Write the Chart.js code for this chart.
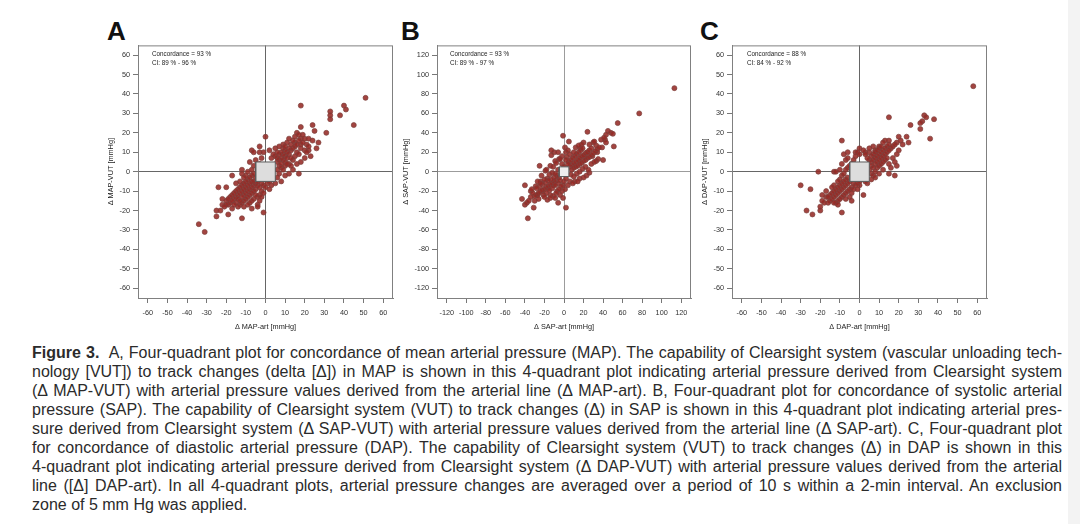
<!DOCTYPE html>
<html>
<head>
<meta charset="utf-8">
<script src="https://cdn.jsdelivr.net/npm/chart.js@4.4.1/dist/chart.umd.min.js"></script>
<style>
  body { margin: 0; background: #fff; width: 1080px; height: 524px; overflow: hidden; position: relative; font-family: "Liberation Sans", Arial, sans-serif; }
  canvas { position: absolute; }
  .letter { position: absolute; font-size: 26px; font-weight: bold; color: #111; line-height: 26px; }
  .stat { position: absolute; font-size: 6.3px; line-height: 9px; color: #222; }
  .strip { position: absolute; left: 1068px; top: 0; width: 12px; height: 524px; background: #f3f3f3; }
  .cap { position: absolute; left: 32px; top: 343px; font-size: 16px; line-height: 19px; color: #2b2b2b; }
  .cap div { height: 19px; }
  .cap span { display: inline-block; white-space: nowrap; }
</style>
</head>
<body>
<div class="strip"></div>

<div class="letter" style="left:107px;top:18px">A</div>
<div class="letter" style="left:401px;top:18px">B</div>
<div class="letter" style="left:700px;top:18px">C</div>

<canvas id="chartA" width="295" height="300" style="left:103px;top:38px"></canvas>
<canvas id="chartB" width="298" height="300" style="left:398px;top:38px"></canvas>
<canvas id="chartC" width="295" height="300" style="left:697px;top:38px"></canvas>

<div class="stat" style="left:152px;top:49px">Concordance = 93 %<br>CI: 89 % - 96 %</div>
<div class="stat" style="left:450px;top:49px">Concordance = 93 %<br>CI: 89 % - 97 %</div>
<div class="stat" style="left:747px;top:49px">Concordance = 88 %<br>CI: 84 % - 92 %</div>

<div class="cap">
  <div><span class="j"><b>Figure 3.</b>&nbsp; A, Four-quadrant plot for concordance of mean arterial pressure (MAP). The capability of Clearsight system (vascular unloading tech-</span></div>
  <div><span class="j">nology [VUT]) to track changes (delta [Δ]) in MAP is shown in this 4-quadrant plot indicating arterial pressure derived from Clearsight system</span></div>
  <div><span class="j">(Δ MAP-VUT) with arterial pressure values derived from the arterial line (Δ MAP-art). B, Four-quadrant plot for concordance of systolic arterial</span></div>
  <div><span class="j">pressure (SAP). The capability of Clearsight system (VUT) to track changes (Δ) in SAP is shown in this 4-quadrant plot indicating arterial pres-</span></div>
  <div><span class="j">sure derived from Clearsight system (Δ SAP-VUT) with arterial pressure values derived from the arterial line (Δ SAP-art). C, Four-quadrant plot</span></div>
  <div><span class="j">for concordance of diastolic arterial pressure (DAP). The capability of Clearsight system (VUT) to track changes (Δ) in DAP is shown in this</span></div>
  <div><span class="j">4-quadrant plot indicating arterial pressure derived from Clearsight system (Δ DAP-VUT) with arterial pressure values derived from the arterial</span></div>
  <div><span class="j">line ([Δ] DAP-art). In all 4-quadrant plots, arterial pressure changes are averaged over a period of 10 s within a 2-min interval. An exclusion</span></div>
  <div><span>zone of 5 mm Hg was applied.</span></div>
</div>

<script>
// tick labels
const ticks60 = [-60, -50, -40, -30, -20, -10, 0, 10, 20, 30, 40, 50, 60];
const ticks120 = [-120, -100, -80, -60, -40, -20, 0, 20, 40, 60, 80, 100, 120];

// exclusion zone (5 mmHg)
const exclusion = 5;

// A: delta MAP-art (x) vs delta MAP-VUT (y)
const mapPoints = [
  [51,38],[18,34],[40,34],[41,32],[38,29],[33,31],[33,29],[33,27],[45,24],[31,20],[24,24],[25,21],[27,15],[23,8],
  [18,23],[0,18],[-34,-27],[-31,-31],[-25,-23],[-25,-20],[-23,-20],[-12,-24],[-1,-21],[-19,-22],[-22,-14],[-24,-8],
  [-4,-17],[12,-1],[17,-1],[16,20],[18,17],[20,17],[-3,13],[-7,11],[-6,10],[-3,10],[-20,-15],[-19,-17],[-22,-17],
  [-18,-16],[-20,-8],[-17,-2],[-12,1],[-12,-1],[-15,-6],[22,17],[19,19],[21,14],[15,15],[20,11],[22,11],
  [6,5],[7,6],[8,7],[9,6],[10,8],[6,7],[7,3],[8,4],[9,9],[10,5],[11,7],[12,9],[11,10],[13,11],[12,12],[14,12],
  [13,14],[15,13],[14,16],[16,14],[17,16],[10,11],[9,12],[8,10],[7,9],[6,10],[5,8],[4,9],[3,7],[2,11],[5,12],
  [7,13],[9,14],[11,15],[12,17],[15,18],[17,19],[6,1],[8,2],[10,3],[12,4],[14,6],[15,8],[16,10],[18,12],[17,9],
  [13,7],[11,4],[9,1],[7,-1],[10,-2],[14,1],[6,-3],[8,-5],[5,-6],[3,-7],[2,-9],[4,-4],[10,13],[18,14],[19,15],
  [16,4],[13,3],[18,5],[21,10],[22,13],[24,16],[26,12],[20,7],
  [-5,-6],[-6,-7],[-7,-8],[-8,-9],[-9,-10],[-10,-11],[-11,-12],[-12,-13],[-6,-5],[-7,-5],[-8,-6],[-9,-7],[-10,-8],
  [-11,-9],[-12,-10],[-13,-11],[-14,-12],[-15,-13],[-16,-14],[-17,-15],[-5,-9],[-6,-10],[-7,-11],[-8,-12],[-9,-13],
  [-10,-14],[-11,-15],[-12,-16],[-13,-17],[-14,-18],[-4,-7],[-3,-8],[-2,-10],[-3,-12],[-4,-13],[-5,-12],[-6,-14],
  [-7,-15],[-9,-4],[-10,-5],[-11,-6],[-12,-7],[-13,-8],[-14,-9],[-15,-10],[-16,-11],[-17,-12],[-8,-3],[-7,-2],
  [-6,-1],[-10,-2],[-9,0],[-11,-3],[-13,-5],[-5,-3],[-4,-5],[-2,-6],[-1,-7],[0,-8],[1,-6],[2,-5],[-18,-13],
  [-19,-14],[-20,-17],[-21,-18],[-17,-19],[-15,-16],[-14,-14],[-16,-17],[-13,-15],[-3,-15],[-2,-13],[-8,-16],
  [-9,-17],[-11,-18],[-7,-19],[-4,-18],[-1,-11],[0,-4],[-6,3],[-5,6],[-8,5],[-7,1],[-4,2],[-3,4],[-2,7],[-1,10],[-3,1]
];

// B: delta SAP-art (x) vs delta SAP-VUT (y)
const sapPoints = [
  [113,86],[77,60],[55,50],[24,41],[-1,37],[5,31],[45,42],[48,40],[50,39],[43,38],[51,26],[40,12],[35,13],[26,-1],
  [-25,6],[-40,-14],[-43,-28],[-40,-34],[-38,-32],[-31,-37],[-37,-48],[-6,-32],[2,-37],[38,33],[42,33],[30,30],
  [33,27],[20,30],[17,24],[-10,20],[-13,17],[-13,22],[-5,13],[18,28],[26,28],[31,31],[41,35],[43,30],[39,25],
  [34,20],[29,16],[33,11],[24,20],[21,15],[16,11],[11,6],[-6,20],[-2,16],[-9,11],[-14,6],[-19,1],[-17,-7],
  [-24,-10],[-29,-15],[-34,-20],[-27,-24],[-22,-20],[-16,-17],[-11,-14],[-1,-14],[6,-10],[11,-10],[16,-7],
  [23,-4],[-14,-24],[-7,-20],
  [-5,-6],[-8,-9],[-10,-10],[-12,-12],[-14,-13],[-16,-15],[-18,-16],[-20,-18],[-22,-19],[-24,-20],[-26,-22],
  [-28,-24],[-30,-25],[-6,-12],[-9,-14],[-12,-17],[-15,-19],[-18,-22],[-21,-24],[-4,-9],[-7,-4],[-10,-6],[-13,-8],
  [-16,-9],[-19,-11],[-22,-13],[-25,-15],[-28,-17],[-3,-15],[-2,-20],[-5,-18],[-8,-22],[-11,-25],[-14,-27],
  [-17,-29],[-20,-8],[-23,-4],[-15,-3],[-12,-1],[-9,-2],[-6,2],[-18,2],[-32,-22],[-34,-26],[-36,-30],[-30,-30],
  [-26,-28],[-24,-12],[-20,-26],[-9,-27],[-4,-24],[0,-10],[2,-7],[1,-18],[4,-14],[-1,-27],[-33,-18],[-27,-10],
  [-11,5],[-8,9],
  [6,5],[8,7],[10,9],[12,10],[14,12],[16,14],[18,16],[20,17],[22,19],[24,20],[26,22],[28,24],[5,10],[7,12],
  [9,14],[11,16],[13,18],[15,20],[17,22],[19,24],[8,2],[10,4],[12,5],[14,6],[16,8],[18,9],[20,11],[22,12],
  [24,14],[26,15],[28,17],[30,19],[32,21],[34,23],[36,25],[3,15],[2,20],[1,25],[4,22],[6,18],[10,20],[12,25],
  [15,27],[7,-3],[10,-5],[13,-2],[16,0],[19,3],[22,5],[4,8],[2,12],[-2,8],[-4,13],[0,5],[9,-12],[14,-10],
  [20,-6],[31,10],[28,8],[25,2]
];

// C: delta DAP-art (x) vs delta DAP-VUT (y)
const dapPoints = [
  [58,44],[15,28],[33,29],[34,28],[32,26],[31,25],[31,22],[38,27],[36,17],[26,24],[25,15],[-9,16],[-21,0],[-13,0],
  [-12,0],[-30,-7],[-25,-9],[-27,-20],[-24,-22],[-20,-20],[-9,-21],[-4,-15],[2,-12],[0,-7],[18,-2],[19,3],
  [20,18],[19,15],[15,16],[13,16],[10,13],[8,11],[5,10],[3,10],[0,12],[-2,10],[-6,10],[-7,6],
  [-5,-5],[-6,-6],[-7,-7],[-8,-8],[-9,-9],[-10,-10],[-11,-11],[-12,-12],[-13,-13],[-14,-14],[-15,-15],[-16,-16],
  [-6,-3],[-7,-4],[-8,-5],[-9,-6],[-10,-7],[-11,-8],[-12,-9],[-13,-10],[-14,-11],[-4,-8],[-5,-9],[-6,-10],
  [-7,-11],[-8,-12],[-9,-13],[-10,-14],[-11,-15],[-12,-16],[-3,-6],[-4,-11],[-3,-9],[-2,-7],[-1,-9],[-5,-13],
  [-7,-14],[-9,-2],[-10,-4],[-11,-5],[-8,-1],[-7,1],[-6,2],[-5,3],[-10,1],[-17,-13],[-18,-16],[-19,-15],
  [-15,-12],[-16,-13],[-13,-7],[-14,-8],[-17,-10],[-2,-4],[-1,-6],[0,-5],[1,-4],[-4,4],[-3,6],[-2,8],[-1,10],
  [0,9],[-6,7],[-8,9],[-9,4],[-19,-12],[-20,-18],[-13,-16],[-11,-17],
  [5,6],[6,5],[7,6],[8,7],[9,8],[10,9],[11,10],[12,11],[13,12],[14,13],[15,14],[16,12],[6,3],[7,2],[8,4],
  [9,5],[10,6],[11,7],[12,8],[13,9],[14,10],[15,11],[17,13],[18,14],[6,8],[7,9],[8,10],[9,11],[10,12],[11,13],
  [12,15],[5,1],[6,-1],[7,-2],[8,0],[9,2],[10,3],[11,4],[12,5],[13,6],[14,7],[6,-4],[8,-3],[10,-1],[12,1],
  [15,4],[17,7],[19,9],[20,11],[21,16],[22,14],[24,18],[4,7],[3,9],[2,11],[5,12],[7,13],[15,-1],[16,2],[18,5],
  [4,-6],[3,-5]
];

// draws the top and right edges of the plot box
const framePlugin = {
  id: "frame",
  beforeDatasetsDraw(chart, args, opts) {
    const a = chart.chartArea;
    const ctx = chart.ctx;
    ctx.save();
    ctx.strokeStyle = opts.color || "#888";
    ctx.lineWidth = 1;
    ctx.strokeRect(a.left + 0.5, a.top + 0.5, a.right - a.left - 1, a.bottom - a.top);
    ctx.restore();
  },
};

function makeChart(id, points, tickVals, range, xTitle, yTitle, yWidth, zeroColor, boxFill) {
  const font = { family: "'Liberation Sans', Arial, sans-serif", size: 7.3 };
  const axis = (title, horizontal) => ({
    type: "linear",
    min: -range,
    max: range,
    afterBuildTicks: (ax) => {
      ax.ticks = tickVals.map((v) => ({ value: v }));
    },
    afterFit: (ax) => {
      if (horizontal) ax.height = 40;
      else ax.width = yWidth;
    },
    grid: {
      color: (c) => (c.tick && c.tick.value === 0 ? zeroColor : "rgba(0,0,0,0)"),
      lineWidth: 1,
      drawTicks: true,
      tickLength: 5,
      tickColor: "#777",
    },
    border: { display: true, color: "#808080", width: 1 },
    ticks: {
      font: font,
      color: "#333",
      padding: horizontal ? 6 : 3,
      maxRotation: 0,
      autoSkip: false,
    },
    title: {
      display: true,
      text: title,
      font: font,
      color: "#222",
      padding: horizontal ? { top: 2, bottom: 7 } : 4,
    },
  });

  const s = -exclusion, e = exclusion;
  new Chart(document.getElementById(id), {
    data: {
      datasets: [
        {
          // exclusion zone box, drawn on top of the points
          type: "line",
          data: [{ x: s, y: s }, { x: e, y: s }, { x: e, y: e }, { x: s, y: e }, { x: s, y: s }],
          borderColor: "#5a5a5a",
          borderWidth: 1,
          backgroundColor: boxFill,
          fill: "shape",
          pointRadius: 0,
          tension: 0,
        },
        {
          type: "scatter",
          data: points.map((p) => ({ x: p[0], y: p[1] })),
          backgroundColor: "rgba(150,42,38,0.88)",
          borderColor: "rgba(125,65,62,0.9)",
          borderWidth: 0.8,
          pointRadius: 2.5,
        },
      ],
    },
    options: {
      responsive: false,
      animation: false,
      devicePixelRatio: 1,
      layout: { padding: { top: 5, right: 5, left: 0, bottom: 0 } },
      plugins: { legend: { display: false }, tooltip: { enabled: false }, frame: { color: "#808080" } },
      scales: {
        x: axis(xTitle, true),
        y: axis(yTitle, false),
      },
    },
    plugins: [framePlugin],
  });
}

makeChart("chartA", mapPoints, ticks60, 65, "Δ MAP-art [mmHg]", "Δ MAP-VUT [mmHg]", 35, "#666", "#dddddd");
makeChart("chartB", sapPoints, ticks120, 130, "Δ SAP-art [mmHg]", "Δ SAP-VUT [mmHg]", 39, "#9c9c9c", "#eeeeee");
makeChart("chartC", dapPoints, ticks60, 65, "Δ DAP-art [mmHg]", "Δ DAP-VUT [mmHg]", 35, "#666", "#dddddd");

// stretch the caption lines to the full block width (justified text)
const capWidth = 1030;
document.querySelectorAll(".cap .j").forEach((el) => {
  const w = el.getBoundingClientRect().width;
  const spaces = (el.textContent.match(/[ \u00a0]/g) || []).length;
  el.style.wordSpacing = (capWidth - w) / spaces + "px";
});
</script>
</body>
</html>
